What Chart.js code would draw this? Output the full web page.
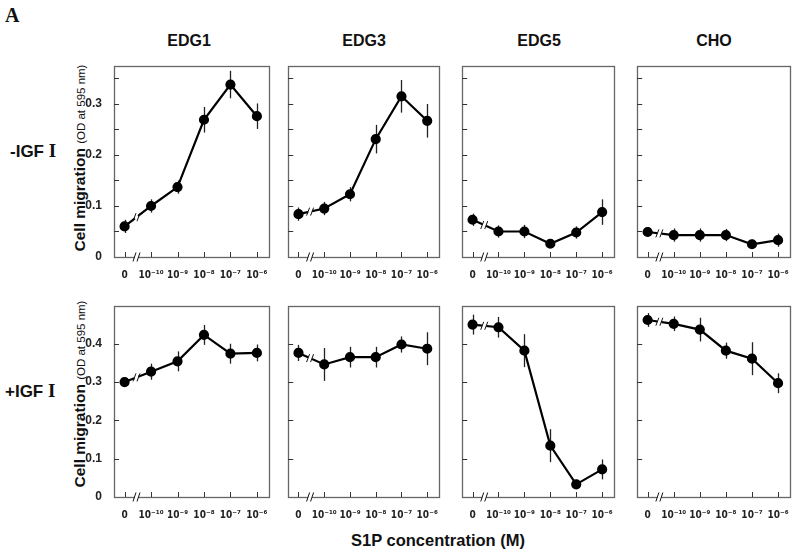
<!DOCTYPE html>
<html>
<head>
<meta charset="utf-8">
<script src="https://cdn.jsdelivr.net/npm/chart.js@4.4.1/dist/chart.umd.min.js"></script>
<style>
  body { margin: 0; background: #fff; width: 800px; height: 555px; position: relative; overflow: hidden;
         font-family: "Liberation Sans", Arial, sans-serif; color: #111; }
  canvas { position: absolute; }
  .txt { position: absolute; white-space: nowrap; font-weight: bold; }
  .title { font-size: 16px; transform: translate(-50%, -50%); }
  .roman { font-family: "Liberation Serif", "Times New Roman", serif; font-size: 19px; }
  .ylab { transform: translate(-50%, -50%) rotate(-90deg); font-size: 15.5px; }
  .ylab span { font-size: 11.5px; font-weight: normal; }
</style>
</head>
<body>
<div class="txt" style="left:5px;top:4px;font-family:'Liberation Serif',serif;font-size:20px;">A</div>
<div class="txt title" style="left:189px;top:41px;">EDG1</div>
<div class="txt title" style="left:364px;top:41px;">EDG3</div>
<div class="txt title" style="left:539px;top:41px;">EDG5</div>
<div class="txt title" style="left:714px;top:41px;">CHO</div>
<div class="txt" style="left:10px;top:140px;font-size:17px;">-IGF <span class="roman">I</span></div>
<div class="txt" style="left:5px;top:380px;font-size:17px;">+IGF <span class="roman">I</span></div>
<div class="txt ylab" style="left:80px;top:158px;">Cell migration <span>(OD at 595 nm)</span></div>
<div class="txt ylab" style="left:80px;top:394px;">Cell migration <span>(OD at 595 nm)</span></div>
<div class="txt title" style="left:438px;top:540px;font-size:16.5px;">S1P concentration (M)</div>

<script>
// S1P concentrations (x categories)
const concLabels = ['0', '10\u207B\u00B9\u2070', '10\u207B\u2079', '10\u207B\u2078', '10\u207B\u2077', '10\u207B\u2076'];
const panelNames = ['EDG1', 'EDG3', 'EDG5', 'CHO'];

// -IGF I (top row): mean OD and error
const edg1NoIgf = [0.060, 0.100, 0.137, 0.269, 0.338, 0.276];
const edg1NoIgfErr = [0.013, 0.013, 0.013, 0.025, 0.027, 0.025];
const edg3NoIgf = [0.084, 0.095, 0.123, 0.231, 0.315, 0.267];
const edg3NoIgfErr = [0.013, 0.013, 0.014, 0.028, 0.032, 0.033];
const edg5NoIgf = [0.073, 0.050, 0.050, 0.026, 0.048, 0.088];
const edg5NoIgfErr = [0.012, 0.012, 0.013, 0.007, 0.012, 0.025];
const choNoIgf = [0.049, 0.043, 0.043, 0.043, 0.025, 0.033];
const choNoIgfErr = [0.009, 0.013, 0.013, 0.012, 0.009, 0.013];

// +IGF I (bottom row)
const edg1Igf = [0.300, 0.327, 0.354, 0.423, 0.374, 0.376];
const edg1IgfErr = [0.011, 0.021, 0.026, 0.026, 0.026, 0.022];
const edg3Igf = [0.376, 0.346, 0.365, 0.365, 0.398, 0.387];
const edg3IgfErr = [0.021, 0.043, 0.027, 0.027, 0.021, 0.043];
const edg5Igf = [0.450, 0.443, 0.382, 0.134, 0.033, 0.072];
const edg5IgfErr = [0.026, 0.027, 0.043, 0.043, 0.012, 0.026];
const choIgf = [0.462, 0.452, 0.437, 0.382, 0.361, 0.297];
const choIgfErr = [0.018, 0.019, 0.031, 0.021, 0.043, 0.026];

// y axis ranges and tick steps per row
const rowYMax = [0.374, 0.498];
const rowTickStep = [0.05, 0.1];

// layout of the plot boxes (page pixels)
const colLeft = [114, 288, 462, 637];
const colRight = [272, 442, 617, 793];
const rowTop = [57, 297];
const rowBottom = [256, 496];

const boxColor = '#666';

const decorations = {
  id: 'decorations',
  beforeDatasetsDraw(chart, args, opts) {
    const ctx = chart.ctx, xs = chart.scales.x, ys = chart.scales.y;
    const means = chart.data.datasets[0].data;
    ctx.save();
    ctx.strokeStyle = '#222';
    ctx.lineWidth = 1.3;
    means.forEach((p, i) => {
      const e = opts.errors[i];
      const x = Math.round(xs.getPixelForValue(p.x)) + 0.5;
      ctx.beginPath();
      ctx.moveTo(x, ys.getPixelForValue(p.y + e));
      ctx.lineTo(x, ys.getPixelForValue(p.y - e));
      ctx.stroke();
    });
    ctx.restore();
  },
  afterDatasetsDraw(chart) {
    // break mark on the line between 0 and the first concentration
    const ctx = chart.ctx, xs = chart.scales.x, ys = chart.scales.y;
    const d = chart.data.datasets[0].data;
    const bx = 0.45;
    const by = d[0].y + (d[1].y - d[0].y) * bx;
    const px = xs.getPixelForValue(bx), py = ys.getPixelForValue(by);
    ctx.save();
    ctx.strokeStyle = '#fff';
    ctx.lineWidth = 5;
    const ang = Math.atan2(ys.getPixelForValue(d[1].y) - ys.getPixelForValue(d[0].y),
                           xs.getPixelForValue(1) - xs.getPixelForValue(0));
    ctx.beginPath();
    ctx.moveTo(px - 2 * Math.cos(ang), py - 2 * Math.sin(ang));
    ctx.lineTo(px + 2 * Math.cos(ang), py + 2 * Math.sin(ang));
    ctx.stroke();
    ctx.strokeStyle = '#111';
    ctx.lineWidth = 1;
    [-2, 2].forEach(o => {
      ctx.beginPath();
      ctx.moveTo(px + o - 1.5, py + 4);
      ctx.lineTo(px + o + 1.5, py - 4);
      ctx.stroke();
    });
    ctx.restore();
  },
  afterDraw(chart) {
    const ctx = chart.ctx, a = chart.chartArea, xs = chart.scales.x, ys = chart.scales.y;
    ctx.save();
    ctx.strokeStyle = boxColor;
    ctx.lineWidth = 1.3;
    ctx.strokeRect(Math.round(a.left) + 0.5, Math.round(a.top) + 0.5,
                   Math.round(a.right - a.left), Math.round(a.bottom - a.top));
    ctx.lineWidth = 1;
    ctx.strokeStyle = '#333';
    ys.ticks.forEach(t => {
      if (t.value <= 0) return;
      const y = Math.round(ys.getPixelForValue(t.value)) + 0.5;
      ctx.beginPath();
      ctx.moveTo(a.left, y);
      ctx.lineTo(a.left + 5, y);
      ctx.stroke();
    });
    xs.ticks.forEach(t => {
      const x = Math.round(xs.getPixelForValue(t.value)) + 0.5;
      ctx.beginPath();
      ctx.moveTo(x, a.bottom);
      ctx.lineTo(x, a.bottom - 5);
      ctx.stroke();
    });
    // axis break mark
    const bx = xs.getPixelForValue(0.45), by = Math.round(a.bottom) + 0.5;
    ctx.fillStyle = '#fff';
    ctx.fillRect(bx - 2, by - 2, 4, 4);
    ctx.strokeStyle = '#111';
    [-2, 2].forEach(o => {
      ctx.beginPath();
      ctx.moveTo(bx + o - 1.5, by + 4);
      ctx.lineTo(bx + o + 1.5, by - 5);
      ctx.stroke();
    });
    ctx.restore();
  }
};

function makePanel(row, col, means, errs) {
  const L = col === 0 ? 40 : 6;
  const H = 24;
  const w = colRight[col] - colLeft[col];
  const h = rowBottom[row] - rowTop[row];
  const canvas = document.createElement('canvas');
  canvas.width = L + w + 3;
  canvas.height = h + 3 + H;
  canvas.style.left = (colLeft[col] - L) + 'px';
  canvas.style.top = (rowTop[row] - 2) + 'px';
  document.body.appendChild(canvas);
  const step = rowTickStep[row];

  return new Chart(canvas, {
    type: 'line',
    data: {
      datasets: [{
        label: panelNames[col],
        data: means.map((v, i) => ({ x: i, y: v })),
        borderColor: '#000',
        borderWidth: 2.2,
        pointRadius: 4,
        pointBackgroundColor: '#000',
        pointBorderColor: '#000',
        tension: 0
      }]
    },
    options: {
      responsive: false,
      animation: false,
      layout: { padding: { top: 2, right: 2, left: 0, bottom: 0 } },
      plugins: {
        legend: { display: false },
        tooltip: { enabled: false },
        decorations: { errors: errs }
      },
      scales: {
        x: {
          type: 'linear',
          min: -0.4,
          max: 5.45,
          afterBuildTicks: s => { s.ticks = concLabels.map((_, i) => ({ value: i })); },
          afterFit: s => { s.height = H; },
          grid: { display: false },
          border: { display: false },
          ticks: {
            callback: v => concLabels[v],
            font: { family: '"DejaVu Sans Condensed", "DejaVu Sans"', size: 10, weight: 'bold' },
            color: '#222',
            padding: 4,
            maxRotation: 0,
            autoSkip: false
          }
        },
        y: {
          min: 0,
          max: rowYMax[row],
          afterFit: s => { s.width = L; },
          grid: { display: false },
          border: { display: false },
          ticks: {
            stepSize: step,
            includeBounds: false,
            callback: v => {
              if (col !== 0) return '';
              const r = Math.round(v * 100) / 100;
              if (Math.abs(r * 10 - Math.round(r * 10)) > 1e-6) return '';
              return r === 0 ? '0' : r.toFixed(1);
            },
            font: { family: 'Liberation Sans', size: 12, weight: 'bold' },
            color: '#222',
            padding: 4
          }
        }
      }
    },
    plugins: [decorations]
  });
}

makePanel(0, 0, edg1NoIgf, edg1NoIgfErr);
makePanel(0, 1, edg3NoIgf, edg3NoIgfErr);
makePanel(0, 2, edg5NoIgf, edg5NoIgfErr);
makePanel(0, 3, choNoIgf, choNoIgfErr);
makePanel(1, 0, edg1Igf, edg1IgfErr);
makePanel(1, 1, edg3Igf, edg3IgfErr);
makePanel(1, 2, edg5Igf, edg5IgfErr);
makePanel(1, 3, choIgf, choIgfErr);
</script>
</body>
</html>
